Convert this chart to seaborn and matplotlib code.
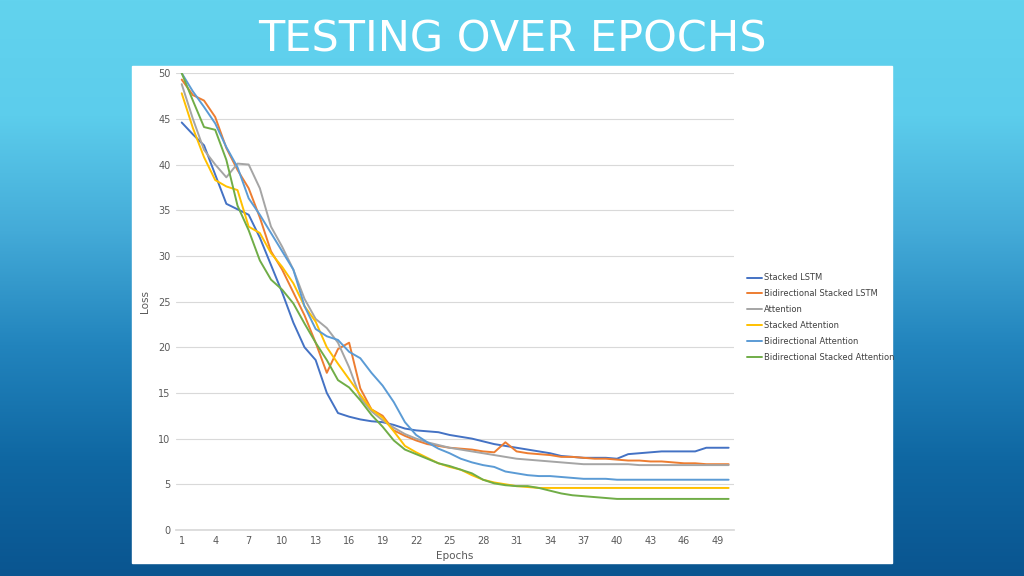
import matplotlib
matplotlib.use("Agg")
import matplotlib.pyplot as plt
from matplotlib.colors import LinearSegmentedColormap
from matplotlib.patches import Rectangle
import numpy as np
import pandas as pd
import seaborn as sns

epochs = list(range(1, 51))

stacked_lstm = [44.6, 43.3, 42.1, 38.9, 35.7, 35.1, 34.5, 32.0, 29.0, 26.0,
                22.7, 20.0, 18.6, 15.0, 12.8, 12.4, 12.1, 11.9, 11.8, 11.5,
                11.1, 10.9, 10.8, 10.7, 10.4, 10.2, 10.0, 9.7, 9.4, 9.2,
                9.0, 8.8, 8.6, 8.4, 8.1, 8.0, 7.9, 7.9, 7.9, 7.8,
                8.3, 8.4, 8.5, 8.6, 8.6, 8.6, 8.6, 9.0, 9.0, 9.0]
bi_stacked_lstm = [49.3, 47.6, 47.0, 45.2, 41.8, 39.4, 37.4, 34.2, 30.5, 28.5,
                   26.0, 23.5, 20.5, 17.2, 19.8, 20.5, 15.5, 13.2, 12.5, 10.9,
                   10.3, 9.8, 9.4, 9.2, 9.0, 8.9, 8.8, 8.6, 8.5, 9.6,
                   8.6, 8.4, 8.3, 8.2, 8.0, 8.0, 7.9, 7.8, 7.8, 7.7,
                   7.6, 7.6, 7.5, 7.5, 7.4, 7.3, 7.3, 7.2, 7.2, 7.2]
attention = [48.8, 45.0, 41.6, 40.0, 38.6, 40.1, 40.0, 37.4, 33.2, 31.0,
             28.5, 25.3, 23.1, 22.1, 20.5, 17.8, 14.5, 13.0, 12.0, 11.2,
             10.5, 10.0, 9.6, 9.3, 9.0, 8.8, 8.6, 8.4, 8.2, 8.0,
             7.8, 7.7, 7.6, 7.5, 7.4, 7.3, 7.2, 7.2, 7.2, 7.2,
             7.2, 7.1, 7.1, 7.1, 7.1, 7.1, 7.1, 7.1, 7.1, 7.1]
stacked_attention = [47.8, 44.0, 40.8, 38.3, 37.6, 37.2, 33.2, 32.5, 30.3, 28.8,
                     27.0, 24.5, 22.8, 20.0, 18.2, 16.5, 14.8, 13.2, 12.3, 10.8,
                     9.2, 8.5, 7.9, 7.3, 6.9, 6.6, 6.0, 5.5, 5.2, 5.0,
                     4.8, 4.7, 4.6, 4.6, 4.6, 4.6, 4.6, 4.6, 4.6, 4.6,
                     4.6, 4.6, 4.6, 4.6, 4.6, 4.6, 4.6, 4.6, 4.6, 4.6]
bi_attention = [50.0, 48.0, 46.3, 44.5, 41.9, 39.7, 36.3, 34.5, 32.5, 30.5,
                28.5, 24.5, 22.0, 21.2, 20.8, 19.5, 18.8, 17.2, 15.8, 14.0,
                11.8, 10.4, 9.6, 8.9, 8.4, 7.8, 7.4, 7.1, 6.9, 6.4,
                6.2, 6.0, 5.9, 5.9, 5.8, 5.7, 5.6, 5.6, 5.6, 5.5,
                5.5, 5.5, 5.5, 5.5, 5.5, 5.5, 5.5, 5.5, 5.5, 5.5]
bi_stacked_attention = [50.0, 47.0, 44.1, 43.8, 40.5, 35.5, 32.8, 29.5, 27.4, 26.3,
                        24.8, 22.6, 20.5, 18.6, 16.4, 15.6, 14.2, 12.6, 11.3, 9.8,
                        8.8, 8.3, 7.8, 7.3, 7.0, 6.6, 6.2, 5.5, 5.1, 4.9,
                        4.8, 4.8, 4.6, 4.3, 4.0, 3.8, 3.7, 3.6, 3.5, 3.4,
                        3.4, 3.4, 3.4, 3.4, 3.4, 3.4, 3.4, 3.4, 3.4, 3.4]

series_names = ["Stacked LSTM", "Bidirectional Stacked LSTM", "Attention",
                "Stacked Attention", "Bidirectional Attention",
                "Bidirectional Stacked Attention"]
series_values = [stacked_lstm, bi_stacked_lstm, attention,
                 stacked_attention, bi_attention, bi_stacked_attention]
colors = ["#4472C4", "#ED7D31", "#A5A5A5", "#FFC000", "#5B9BD5", "#70AD47"]

x_ticks = list(range(1, 51, 3))
y_ticks = list(range(0, 51, 5))

df = pd.DataFrame({
    "Epochs": epochs * len(series_names),
    "Loss": sum(series_values, []),
    "Series": [n for n in series_names for _ in epochs],
})

sns.set_theme(style="white")
plt.rcParams["font.family"] = ["DejaVu Sans"]

fig = plt.figure(figsize=(10.24, 5.76), dpi=100)

# slide background gradient
bg = fig.add_axes([0, 0, 1, 1])
bg_cmap = LinearSegmentedColormap.from_list(
    "slide", ["#62d3ee", "#5ccdec", "#44abd8", "#2284bd", "#0f67a2", "#0a5590"])
grad = np.linspace(0, 1, 256).reshape(-1, 1)
bg.imshow(grad, aspect="auto", cmap=bg_cmap, extent=[0, 1, 0, 1], origin="upper")
bg.set_xlim(0, 1)
bg.set_ylim(0, 1)
bg.axis("off")

# white chart panel
bg.add_patch(Rectangle((0.129, 0.0226), 0.742, 0.8628, color="white", zorder=2))

fig.text(0.5, 0.932, "TESTING OVER EPOCHS", color="white", fontsize=31,
         ha="center", va="center")

ax = fig.add_axes([0.172, 0.0799, 0.545, 0.7931])
ax.set_facecolor("white")
sns.lineplot(data=df, x="Epochs", y="Loss", hue="Series", palette=colors,
             linewidth=1.4, ax=ax)

ax.set_xlim(0.5, 50.5)
ax.set_ylim(0, 50)
ax.set_xticks(x_ticks)
ax.set_yticks(y_ticks)
ax.tick_params(axis="both", labelsize=7, colors="#595959", length=0, pad=4)
ax.yaxis.grid(True, color="#d9d9d9", linewidth=0.8)
ax.set_axisbelow(True)
for side in ["top", "right", "left"]:
    ax.spines[side].set_visible(False)
ax.spines["bottom"].set_color("#d9d9d9")
ax.set_xlabel("Epochs", fontsize=7.5, color="#595959", labelpad=4)
ax.set_ylabel("Loss", fontsize=7.5, color="#595959", labelpad=6)

ax.legend(loc="center left", bbox_to_anchor=(1.01, 0.465), frameon=False,
          fontsize=6, handlelength=1.8, handletextpad=0.2, labelspacing=0.82,
          labelcolor="#404040")

fig.savefig("out.png", dpi=100)
